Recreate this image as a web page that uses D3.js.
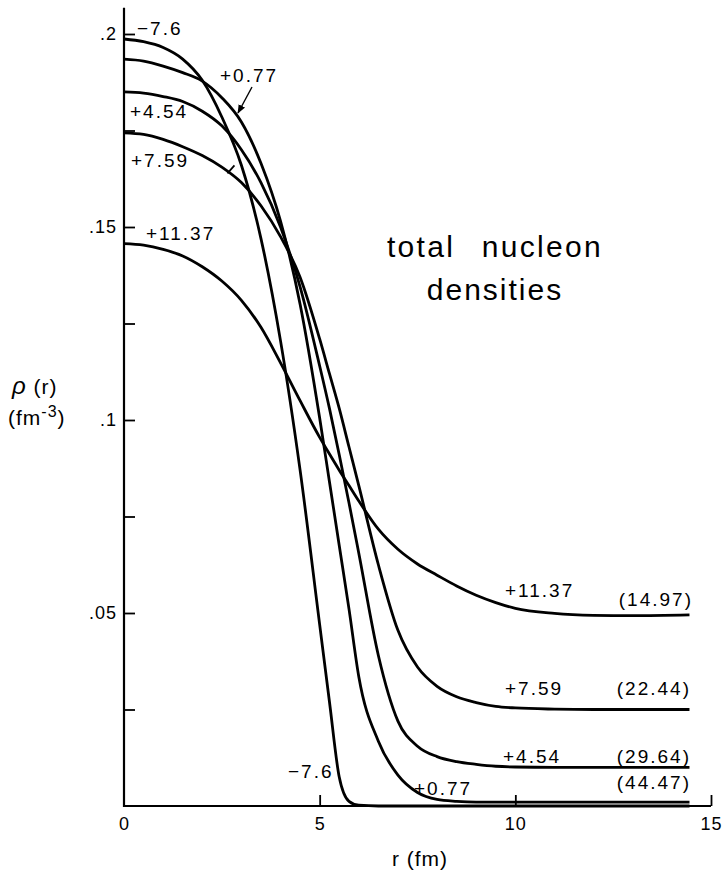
<!DOCTYPE html>
<html>
<head>
<meta charset="utf-8">
<script src="https://cdn.jsdelivr.net/npm/d3@7/dist/d3.min.js"></script>
<style>
  body { margin: 0; background: #fff; }
  text { font-family: "Liberation Sans", Arial, sans-serif; fill: #000; }
  .curve { fill: none; stroke: #000; stroke-width: 2.8; }
  .axis-line { stroke: #000; stroke-width: 2.2; }
  .tick line { stroke: #000; stroke-width: 1.8; }
  .tick text { font-size: 18px; letter-spacing: 1px; }
  .lbl { font-size: 19px; letter-spacing: 2px; }
</style>
</head>
<body>
<div id="chart"></div>
<script>
//radius grid (fm) shared by every curve
var rGrid = [0, 0.5, 1, 1.5, 2, 2.5, 3, 3.5, 4, 4.5, 5, 5.25, 5.5, 5.75, 6, 6.5, 7, 7.5, 8, 8.5, 9, 9.5, 10, 11, 12, 13, 14.45];

//densities, one array per curve
var rhoM76  = [0.1987, 0.1980, 0.1965, 0.1935, 0.1880, 0.1785, 0.1660, 0.1470, 0.1205, 0.0870, 0.0470, 0.0270, 0.0075, 0.0012, 0.0002, 0, 0, 0, 0, 0, 0, 0, 0, 0, 0, 0, 0];
var rhoP077 = [0.1935, 0.1930, 0.1917, 0.1900, 0.1878, 0.1835, 0.1772, 0.1665, 0.1515, 0.1300, 0.1005, 0.0840, 0.0675, 0.0510, 0.0335, 0.0168, 0.0080, 0.0035, 0.0017, 0.0012, 0.0010, 0.0010, 0.0010, 0.0010, 0.0010, 0.0010, 0.0010];
var rhoP454 = [0.1850, 0.1847, 0.1838, 0.1825, 0.1800, 0.1762, 0.1700, 0.1615, 0.1500, 0.1345, 0.1140, 0.1030, 0.0910, 0.0785, 0.0655, 0.0390, 0.0220, 0.0155, 0.0128, 0.0115, 0.0108, 0.0103, 0.0101, 0.0100, 0.0100, 0.0100, 0.0100];
var rhoP759 = [0.1744, 0.1740, 0.1727, 0.1708, 0.1685, 0.1655, 0.1615, 0.1555, 0.1475, 0.1370, 0.1210, 0.1120, 0.1030, 0.0930, 0.0830, 0.0625, 0.0455, 0.0360, 0.0310, 0.0283, 0.0268, 0.0258, 0.0254, 0.0251, 0.0250, 0.0250, 0.0250];
var rhoP1137 = [0.1457, 0.1453, 0.1442, 0.1425, 0.1397, 0.1360, 0.1310, 0.1240, 0.1148, 0.1050, 0.0955, 0.0912, 0.0870, 0.0830, 0.0790, 0.0717, 0.0665, 0.0627, 0.0598, 0.0570, 0.0546, 0.0527, 0.0512, 0.0499, 0.0494, 0.0493, 0.0495];

var seriesList = [rhoM76, rhoP077, rhoP454, rhoP759, rhoP1137];

//ticks
var xTickValues = [0, 5, 10, 15];
var xTickLabels = ["0", "5", "10", "15"];
var yTickValues = [0.025, 0.05, 0.075, 0.1, 0.125, 0.15, 0.175, 0.2];
var yTickLabels = ["", ".05", "", ".1", "", ".15", "", ".2"];

var width = 723;
var height = 875;

var svg = d3.select("#chart")
.append("svg")
.attr("width", width)
.attr("height", height);

var x = d3.scaleLinear().domain([0, 15]).range([124, 711]);
var y = d3.scaleLinear().domain([0, 0.2]).range([806, 34]);

//axis lines
svg.append("line").attr("class", "axis-line")
.attr("x1", x(0)).attr("x2", x(0))
.attr("y1", y(0) + 1).attr("y2", y(0.2068));
svg.append("line").attr("class", "axis-line")
.attr("x1", x(0) - 1).attr("x2", x(15))
.attr("y1", y(0)).attr("y2", y(0));

//x axis, ticks pointing up
var xAxis = svg.append("g")
.attr("transform", "translate(0," + y(0) + ")")
.call(d3.axisBottom(x)
  .tickValues(xTickValues)
  .tickSize(-11)
  .tickPadding(9)
  .tickFormat(function(d, i) { return xTickLabels[i]; }));
xAxis.select(".domain").remove();
xAxis.selectAll(".tick text").attr("y", 11).attr("dy", "0.71em");
xAxis.selectAll(".tick").filter(function(d) { return d === 0; }).select("line").remove();

//y axis, ticks pointing right
var yAxis = svg.append("g")
.attr("transform", "translate(" + x(0) + ",0)")
.call(d3.axisLeft(y)
  .tickValues(yTickValues)
  .tickSize(-11)
  .tickPadding(8)
  .tickFormat(function(d, i) { return yTickLabels[i]; }));
yAxis.select(".domain").remove();
yAxis.selectAll(".tick text").attr("x", -7);

//curves
var line = d3.line()
.x(function(d) { return x(d[0]); })
.y(function(d) { return y(d[1]); })
.curve(d3.curveMonotoneX);

svg.selectAll("path.curve")
.data(seriesList)
.enter()
.append("path")
.attr("class", "curve")
.attr("d", function(s) { return line(rGrid.map(function(r, i) { return [r, s[i]]; })); });

//small slash on the +7.59 curve
var rs = 2.72, ps = 0.1652;
svg.append("line")
.attr("x1", x(rs) - 3).attr("y1", y(ps) + 5)
.attr("x2", x(rs) + 4).attr("y2", y(ps) - 3)
.attr("stroke", "#000").attr("stroke-width", 1.8);

//arrow to +0.77
svg.append("defs").append("marker")
.attr("id", "arrow")
.attr("viewBox", "0 0 10 10")
.attr("refX", 9).attr("refY", 5)
.attr("markerWidth", 9).attr("markerHeight", 9)
.attr("markerUnits", "userSpaceOnUse")
.attr("orient", "auto")
.append("path")
.attr("d", "M0,1 L10,5 L0,9 Z")
.attr("fill", "#000");
svg.append("line")
.attr("x1", 252).attr("y1", 87)
.attr("x2", 238).attr("y2", 113)
.attr("stroke", "#000").attr("stroke-width", 1.4)
.attr("marker-end", "url(#arrow)");

//curve labels
var labels = [
  { t: "\u22127.6", x: 137, y: 35, a: "start" },
  { t: "+0.77", x: 220, y: 82, a: "start" },
  { t: "+4.54", x: 130, y: 118, a: "start" },
  { t: "+7.59", x: 131, y: 167, a: "start" },
  { t: "+11.37", x: 146, y: 240, a: "start" },
  { t: "+11.37", x: 505, y: 597, a: "start" },
  { t: "(14.97)", x: 693, y: 606, a: "end" },
  { t: "+7.59", x: 505, y: 695, a: "start" },
  { t: "(22.44)", x: 691, y: 695, a: "end" },
  { t: "+4.54", x: 503, y: 763, a: "start" },
  { t: "(29.64)", x: 691, y: 763, a: "end" },
  { t: "(44.47)", x: 691, y: 789, a: "end" },
  { t: "+0.77", x: 414, y: 795, a: "start" },
  { t: "\u22127.6", x: 288, y: 778, a: "start" }
];
svg.selectAll("text.lbl")
.data(labels)
.enter()
.append("text")
.attr("class", "lbl")
.attr("x", function(d) { return d.x; })
.attr("y", function(d) { return d.y; })
.attr("text-anchor", function(d) { return d.a; })
.text(function(d) { return d.t; });

//title
svg.append("text")
.attr("x", 495).attr("y", 257)
.attr("text-anchor", "middle")
.style("font-size", "30px").style("letter-spacing", "2.3px").style("word-spacing", "16px")
.text("total nucleon");
svg.append("text")
.attr("x", 495).attr("y", 300)
.attr("text-anchor", "middle")
.style("font-size", "30px").style("letter-spacing", "2px")
.text("densities");

//axis titles
var yr = svg.append("text")
.attr("x", 12).attr("y", 394)
.style("font-size", "21px").style("letter-spacing", "1px");
yr.append("tspan").style("font-style", "italic").style("font-size", "24px").text("\u03c1");
yr.append("tspan").text(" (r)");
var yt = svg.append("text")
.attr("x", 8).attr("y", 425)
.style("font-size", "21px").style("letter-spacing", "1px");
yt.append("tspan").text("(fm");
yt.append("tspan").attr("dy", -8).style("font-size", "16px").text("-3");
yt.append("tspan").attr("dy", 8).text(")");

svg.append("text")
.attr("x", 420).attr("y", 866)
.attr("text-anchor", "middle")
.style("font-size", "21px").style("letter-spacing", "1px")
.text("r (fm)");
</script>
</body>
</html>
